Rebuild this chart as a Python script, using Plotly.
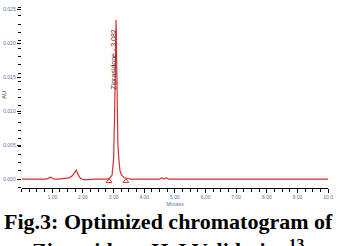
import plotly.graph_objects as go

# Chromatogram trace (time in minutes, absorbance in AU)
time_min = [0.00, 0.80, 0.95, 1.05, 1.20, 1.45, 1.55, 1.65, 1.72, 1.78, 1.84, 1.92, 2.05, 2.40,
            2.80, 2.88, 2.95, 3.00, 3.03, 3.06, 3.08, 3.10, 3.12, 3.14, 3.17, 3.21, 3.26,
            3.35, 3.45, 3.55, 4.50, 4.58, 4.65, 4.72, 4.80, 6.00, 8.00, 10.00]
absorb_au = [0.0000, 0.0000, 0.0003, 0.0000, 0.0000, 0.0001, 0.0002, 0.0005, 0.0010, 0.0013, 0.0007, 0.0001, -0.0001, 0.0000,
             0.0000, 0.0002, 0.0006, 0.0030, 0.0090, 0.0170, 0.0234, 0.0170, 0.0095, 0.0050, 0.0030, 0.0012, 0.0006,
             0.0002, 0.0001, 0.0000, 0.0000, 0.0002, 0.0000, 0.0002, 0.0000, 0.0000, 0.0000, 0.0000]

# Integration markers
marker_t = [2.85, 3.40]
marker_y = [-0.0003, -0.0003]

peak_label = "Ziprasidone - 3.082"
peak_t = 3.03
peak_label_y = 0.0175

x_ticks = [1, 2, 3, 4, 5, 6, 7, 8, 9, 10]
x_tick_text = ["1.00", "2.00", "3.00", "4.00", "5.00", "6.00", "7.00", "8.00", "9.00", "10.0"]
y_ticks = [0.000, 0.005, 0.010, 0.015, 0.020, 0.025]
y_tick_text = ["0.000", "0.005", "0.010", "0.015", "0.020", "0.025"]

RED = "#d8302c"
TICKC = "#5a6f99"

fig = go.Figure()
fig.add_trace(go.Scatter(x=time_min, y=absorb_au, mode="lines",
                         line=dict(color=RED, width=1.2), showlegend=False, hoverinfo="skip"))
fig.add_trace(go.Scatter(x=marker_t, y=marker_y, mode="markers",
                         marker=dict(symbol="triangle-up-open", color=RED, size=5, line=dict(width=1, color=RED)),
                         showlegend=False, hoverinfo="skip"))

W, H = 341, 246
x0, x1 = 22, 333
ytop, ybot = 5, 188

fig.update_layout(
    width=W, height=H,
    margin=dict(l=0, r=0, t=0, b=0),
    paper_bgcolor="white", plot_bgcolor="white",
    xaxis=dict(domain=[x0 / W, x1 / W], range=[0, 10], showgrid=False, zeroline=False,
               showline=True, linecolor="black", linewidth=1,
               ticks="outside", ticklen=4, tickcolor="black",
               tickvals=x_ticks, ticktext=x_tick_text,
               tickfont=dict(size=5, color=TICKC, family="Arial"),
               minor=dict(ticks="outside", ticklen=3, dtick=0.25, tickcolor="black"),
               title=dict(text="Minutes", font=dict(size=5, color=TICKC, family="Arial"), standoff=3)),
    yaxis=dict(domain=[(H - ybot) / H, (H - ytop) / H], range=[-0.0013, 0.0256],
               showgrid=False, zeroline=False, showline=False,
               ticks="outside", ticklen=4, tickcolor="black",
               tickvals=y_ticks, ticktext=y_tick_text,
               tickfont=dict(size=5, color=TICKC, family="Arial"),
               minor=dict(ticks="outside", ticklen=3, dtick=0.0012, tickcolor="black")),
    annotations=[
        dict(x=peak_t, y=peak_label_y, xref="x", yref="y", text=peak_label, showarrow=False,
             textangle=-90, font=dict(size=7, color="#6a2020", family="Arial")),
        dict(x=4 / W, y=(H - 95) / H, xref="paper", yref="paper", text="AU", showarrow=False,
             textangle=-90, xanchor="center", font=dict(size=6, color="#333", family="Arial")),
        dict(x=0.5, y=(H - 221) / H, xref="paper", yref="paper", yanchor="middle",
             text="<b>Fig.3: Optimized chromatogram of</b>", showarrow=False,
             font=dict(size=22, color="black", family="Liberation Serif")),
        dict(x=0.5, y=(H - 249) / H, xref="paper", yref="paper", yanchor="middle",
             text="<b>Ziprasidone HcI Validation<sup>13</sup></b>", showarrow=False,
             font=dict(size=22, color="black", family="Liberation Serif")),
    ],
)

fig.write_html("out.html")
